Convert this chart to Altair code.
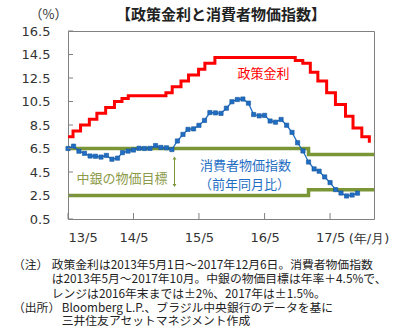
import altair as alt
import pandas as pd

# ---- data ----
policy_dates = ["2013-05-01", "2013-05-29", "2013-07-10", "2013-08-28", "2013-10-09",
                "2013-11-27", "2014-01-15", "2014-02-26", "2014-04-02", "2014-10-29",
                "2014-12-03", "2015-01-21", "2015-03-04", "2015-04-29", "2015-06-03",
                "2015-07-29", "2016-10-19", "2016-11-30", "2017-01-11", "2017-02-22",
                "2017-04-12", "2017-05-31", "2017-07-26", "2017-09-06", "2017-10-25",
                "2017-12-06"]
policy_rates = [7.50, 8.00, 8.50, 9.00, 9.50, 10.00, 10.50, 10.75, 11.00, 11.25,
                11.75, 12.25, 12.75, 13.25, 13.75, 14.25, 14.00, 13.75, 13.00, 12.25,
                11.25, 10.25, 9.25, 8.25, 7.50, 7.00]

cpi_values = [6.50, 6.70, 6.27, 6.09, 5.86, 5.84, 5.77, 5.91,
              5.59, 5.68, 6.15, 6.28, 6.37, 6.52, 6.50, 6.51, 6.75, 6.59, 6.56, 6.41,
              7.14, 7.70, 8.13, 8.17, 8.47, 8.89, 9.56, 9.53, 9.49, 9.93, 10.48, 10.67,
              10.71, 10.36, 9.39, 9.28, 9.32, 8.84, 8.74, 8.97, 8.48, 7.87, 6.99, 6.29,
              5.35, 4.76, 4.57, 4.08, 3.60, 3.00, 2.71, 2.46, 2.54, 2.70]
cpi_dates = [d.strftime("%Y-%m-%d") for d in pd.date_range("2013-05-01", periods=len(cpi_values), freq="MS")]

target_dates = ["2013-05-01", "2017-01-01", "2018-01-01"]
target_upper = [6.5, 6.0, 6.0]
target_lower = [2.5, 3.0, 3.0]

y_ticks = [0.5, 2.5, 4.5, 6.5, 8.5, 10.5, 12.5, 14.5, 16.5]
x_tick_dates = ["2013-05-01", "2014-05-01", "2015-05-01", "2016-05-01", "2017-05-01"]
x_domain = ["2013-05-01", "2018-01-01"]

title_text = "【政策金利と消費者物価指数】"
unit_text = "（%）"
notes = [
    ("（注）", "政策金利は2013年5月1日～2017年12月6日。消費者物価指数"),
    ("", "は2013年5月～2017年10月。中銀の物価目標は年率＋4.5%で、"),
    ("", "レンジは2016年末までは±2%、2017年は±1.5%。"),
]
sources = [
    ("（出所）", "Bloomberg L.P.、ブラジル中央銀行のデータを基に"),
    ("", "三井住友アセットマネジメント作成"),
]

# ---- styling ----
W, H = 306, 188
RED = "#ff0000"
BLUE = "#1f6ec4"
OLIVE = "#7a9636"
OLIVE_TXT = "#8c9a48"
JP = "Noto Sans CJK JP"
NUM = "DejaVu Sans"

def ms(s):
    return int(pd.Timestamp(s, tz="UTC").value // 10**6)

xscale = alt.Scale(type="utc", domain=[ms(d) for d in x_domain])
yscale = alt.Scale(domain=[0.5, 16.5], nice=False, zero=False)

policy_df = pd.DataFrame({"date": policy_dates, "value": policy_rates})
cpi_df = pd.DataFrame({"date": cpi_dates, "value": cpi_values})
up_df = pd.DataFrame({"date": target_dates, "value": target_upper})
lo_df = pd.DataFrame({"date": target_dates, "value": target_lower})

xaxis = alt.Axis(values=[ms(d) for d in x_tick_dates],
                 labelExpr="utcFormat(datum.value, '%y') + '/' + (utcmonth(datum.value) + 1)",
                 labelPadding=12, labelOverlap=False)
yaxis = alt.Axis(values=y_ticks, format=".1f", labelPadding=18, labelOverlap=False)
X = alt.X("date:T", scale=xscale, title=None, axis=xaxis)
Y = alt.Y("value:Q", scale=yscale, title=None, axis=yaxis)

upper = alt.Chart(up_df).mark_line(color=OLIVE, strokeWidth=3.5, interpolate="step-after").encode(x=X, y=Y)
lower = alt.Chart(lo_df).mark_line(color=OLIVE, strokeWidth=3.5, interpolate="step-after").encode(x=X, y=Y)
policy = alt.Chart(policy_df).mark_line(color=RED, strokeWidth=3, interpolate="step-after").encode(x=X, y=Y)
cpi_line = alt.Chart(cpi_df).mark_line(color=BLUE, strokeWidth=1.3).encode(x=X, y=Y)
cpi_pts = alt.Chart(cpi_df).mark_point(shape="square", filled=True, size=18, color=BLUE,
                                        stroke="#15549a", strokeWidth=0.6, opacity=1).encode(x=X, y=Y)

ytick_df = pd.DataFrame({"value": y_ticks})
xtick_df = pd.DataFrame({"date": x_tick_dates})
yticks = alt.Chart(ytick_df).mark_rule(color="#808080").encode(y=Y, x=alt.value(0), x2=alt.value(5))
xticks = alt.Chart(xtick_df).mark_rule(color="#808080").encode(x=X, y=alt.value(H), y2=alt.value(H - 6))

one = pd.DataFrame({"k": [0]})

def txt(text, x, y, size=13, color="#333333", font=JP, align="center", weight="normal"):
    return alt.Chart(pd.DataFrame({"t": [text]})).mark_text(
        font=font, fontSize=size, color=color, align=align, baseline="middle", fontWeight=weight
    ).encode(text="t:N", x=alt.value(x), y=alt.value(y))

arrow = alt.Chart(one).mark_rule(color=OLIVE, strokeWidth=1).encode(
    x=alt.value(106.5), y=alt.value(127), y2=alt.value(154.5))
arrow_up = alt.Chart(one).mark_point(shape="triangle-up", filled=True, size=14, color=OLIVE, opacity=1).encode(
    x=alt.value(106.5), y=alt.value(127))
arrow_dn = alt.Chart(one).mark_point(shape="triangle-down", filled=True, size=14, color=OLIVE, opacity=1).encode(
    x=alt.value(106.5), y=alt.value(154.5))

texts = [
    txt(title_text, 153, -16, size=15, color="#222222", weight="bold"),
    txt(unit_text, -19.5, -16, size=13),
    txt("(年/月)", 301, 208, size=13, font=NUM),
    txt("政策金利", 195.5, 43, color=RED),
    txt("消費者物価指数", 177.5, 134.5, color=BLUE),
    txt("（前年同月比）", 176.5, 154, color=BLUE),
    txt("中銀の物価目標", 54, 148, color=OLIVE_TXT),
]
NS = 11.8
note_y = [233.5, 248, 262.7]
for (lab, body), yy in zip(notes, note_y):
    if lab:
        texts.append(txt(lab, -55, yy, size=NS, align="left", color="#222222"))
    texts.append(txt(body, -16.3, yy, size=NS, align="left", color="#222222"))
src_y = [277, 290.3]
for (lab, body), yy in zip(sources, src_y):
    if lab:
        texts.append(txt(lab, -55, yy, size=NS, align="left", color="#222222"))
    texts.append(txt(body, -6.3, yy, size=NS, align="left", color="#222222"))

chart = alt.layer(
    upper, lower, policy, cpi_line, cpi_pts, yticks, xticks, arrow, arrow_up, arrow_dn, *texts
).properties(
    width=W, height=H,
    autosize=alt.AutoSizeParams(type="none"),
    padding={"left": 68, "top": 31, "right": 27, "bottom": 112},
).configure_view(
    stroke="#808080", strokeWidth=1
).configure_axis(
    tickSize=0, domain=False, grid=False, labelFont=NUM, labelFontSize=13, labelColor="#333333",
    labelOverlap=False
)

chart.save("out.html", embed_options={"renderer": "svg", "actions": False})
